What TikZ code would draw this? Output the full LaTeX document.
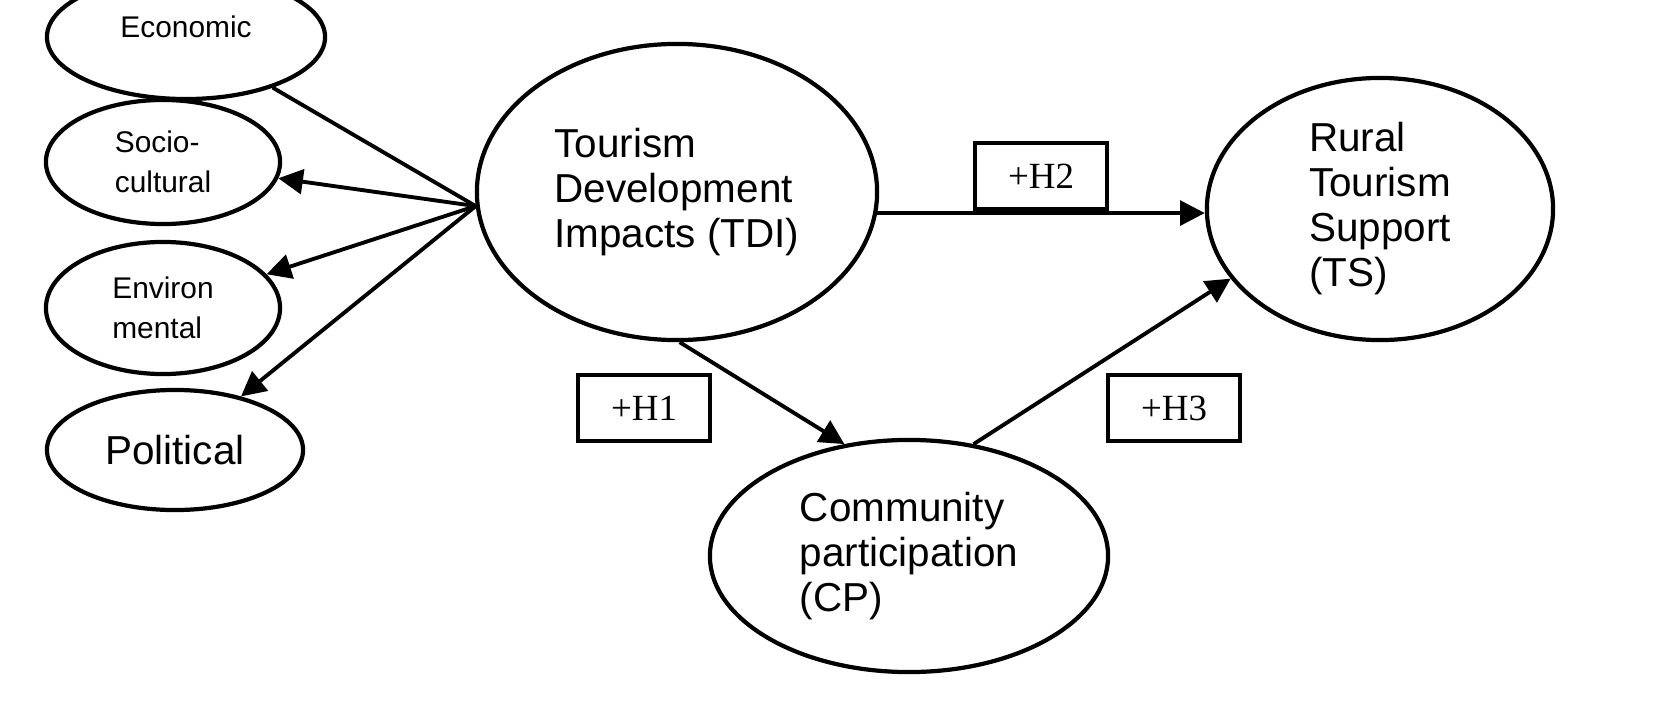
\documentclass[tikz,border=0pt]{standalone}
\usepackage{fontspec}
\setmainfont{Liberation Serif}
\setsansfont{Liberation Sans}
\usetikzlibrary{shapes.geometric,arrows.meta}

\tikzset{
  construct/.style={ellipse, draw, line width=1.2pt, inner sep=0pt,
                    font=\sffamily\fontsize{11.5}{12.8}\selectfont, align=left},
  small/.style={font=\sffamily\fontsize{8.5}{11.5}\selectfont},
  hyp/.style={rectangle, draw, line width=1.1pt, minimum width=1.32cm,
              minimum height=0.66cm, font=\rmfamily\fontsize{10.5}{12}\selectfont},
  path/.style={line width=1.1pt, -{Triangle[length=7pt,width=7pt]}},
}

\begin{document}
\begin{tikzpicture}[x=0.01cm, y=-0.01cm]

\useasboundingbox (0,0) rectangle (1665,724);
\clip (0,0) rectangle (1665,724);

%%% dimensions of the model
   \node[construct, small, minimum width=2.78cm, minimum height=1.24cm] (eco) at (186,37) {\raisebox{0.7em}{Economic}};
   \node[construct, small, minimum width=2.34cm, minimum height=1.24cm] (soc) at (163,162) {Socio-\\cultural};
   \node[construct, small, minimum width=2.34cm, minimum height=1.32cm] (env) at (163,308) {Environ\\mental};
   \node[construct, minimum width=2.56cm, minimum height=1.20cm] (pol) at (175,450) {Political};

%%% main constructs
   \node[construct, minimum width=4.0cm, minimum height=2.96cm] (tdi) at (677,192) {Tourism\\Development\\Impacts (TDI)};
   \node[construct, minimum width=3.46cm, minimum height=2.62cm] (ts) at (1380,209) {\raisebox{0pt}{Rural}\\Tourism\\Support\\(TS)\hspace*{0.55cm}};
   \node[construct, minimum width=3.98cm, minimum height=2.32cm] (cp) at (909,556) {Community\\participation\\(CP)};

%%% hypotheses
   \node[hyp] (h2) at (1041,176) {+H2};
   \node[hyp] (h1) at (644,408) {+H1};
   \node[hyp] (h3) at (1174,408) {+H3};

   \draw[line width=1.1pt] (tdi.184) -- (eco);
   \draw[path] (tdi.184) -- (soc);
   \draw[path] (tdi.184) -- (env);
   \draw[path] (tdi.184) -- (pol);

   \draw[path] (tdi.-6) -- (ts.west |- tdi.-6);
   \draw[path] (tdi.-89) -- (cp.120);
   \draw[path] (cp.60) -- (ts.205);

\end{tikzpicture}
\end{document}
